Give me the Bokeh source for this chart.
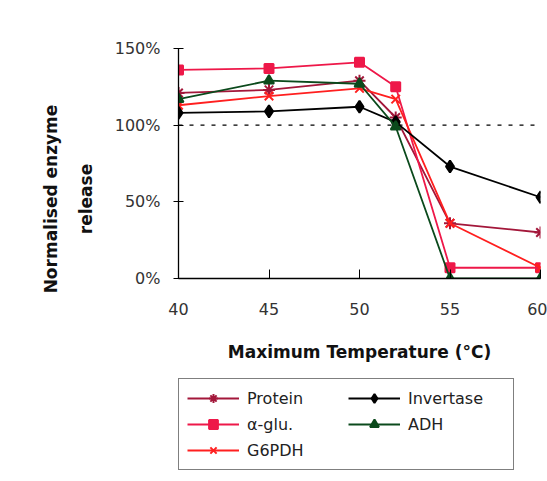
from bokeh.plotting import figure
from bokeh.models import Span, Legend, LegendItem, FixedTicker, Range1d, CustomJSTickFormatter
from bokeh.layouts import column
from bokeh.embed import file_html
from bokeh.resources import INLINE

temps = [40, 45, 50, 52, 55, 60]
protein = [121, 123, 129, 105, 36, 30]
aglu = [136, 137, 141, 125, 7, 7]
g6pdh = [113, 119, 124, 117, 36, 7]
invertase = [108, 109, 112, 102, 73, 53]
adh = [117, 129, 127, 99, 0, 0]

y_ticks = [0, 50, 100, 150]
x_ticks = [40, 45, 50, 55, 60]

FONT = "DejaVu Sans"
NB = "\u00a0" * 12

p = figure(width=547, height=375, output_backend="svg", toolbar_location=None,
           x_range=Range1d(40, 60), y_range=Range1d(0, 150),
           min_border_left=178, min_border_right=7, min_border_top=48,
           min_border_bottom=97)
p.outline_line_color = None
p.xgrid.visible = False
p.ygrid.visible = False

p.yaxis.ticker = FixedTicker(ticks=y_ticks)
p.yaxis.formatter = CustomJSTickFormatter(code="return tick + '%';")
p.xaxis.ticker = FixedTicker(ticks=x_ticks)
for ax in (p.xaxis, p.yaxis):
    ax.minor_tick_line_color = None
    ax.axis_line_color = "black"
    ax.axis_line_width = 1.3
    ax.major_tick_line_color = "black"
    ax.major_label_text_font = FONT
    ax.major_label_text_font_size = "16px"
    ax.major_label_text_color = "#333333"
    ax.axis_label_text_font = FONT
    ax.axis_label_text_font_style = "bold"
    ax.axis_label_text_font_size = "17px"
    ax.axis_label_text_color = "#111111"

p.yaxis.major_tick_in = 5
p.yaxis.major_tick_out = 5
p.xaxis.major_tick_in = 9
p.xaxis.major_tick_out = 0
p.yaxis.major_label_standoff = 13
p.xaxis.major_label_standoff = 24
p.yaxis.axis_label = "Normalised enzyme" + NB + "\nrelease" + NB
p.yaxis.axis_label_text_line_height = 1.75
p.xaxis.axis_label = "Maximum Temperature (°C)"
p.xaxis.axis_label_standoff = 24
p.yaxis.axis_label_standoff = 16

p.add_layout(Span(location=100, dimension="width", line_color="black",
                  line_dash="4 7", line_width=1.3))

series = [
    ("Protein", protein, "#a3173a", "asterisk", 12),
    ("\u03b1-glu.", aglu, "#ee1849", "square", 9),
    ("G6PDH", g6pdh, "#ff1f1f", "x", 12),
    ("Invertase", invertase, "#000000", "diamond", 12),
    ("ADH", adh, "#0b4a1c", "triangle", 10),
]

# legend panel: a second canvas whose visible range holds no data
pl = figure(width=547, height=106, output_backend="svg", toolbar_location=None,
            x_range=Range1d(0, 1), y_range=Range1d(0, 1), min_border=0)
pl.axis.visible = False
pl.grid.visible = False
pl.outline_line_color = None

items = []
for name, vals, col, mk, sz in series:
    p.line(temps, vals, line_color=col, line_width=1.8)
    p.scatter(temps, vals, marker=mk, size=sz, line_color=col, fill_color=col, line_width=2)
    l1 = pl.line(temps, vals, line_color=col, line_width=1.8)
    l2 = pl.scatter(temps, vals, marker=mk, size=sz, line_color=col, fill_color=col, line_width=2)
    items.append(LegendItem(label=name, renderers=[l1, l2]))

legend = Legend(items=items, orientation="vertical", nrows=3,
                location=(0, 11), margin=0, padding=8, spacing=4,
                label_text_font=FONT, label_text_font_size="16px",
                label_text_color="#222222", glyph_width=52, glyph_height=22,
                label_height=22, label_width=97, label_standoff=8,
                border_line_color="black", border_line_width=1,
                background_fill_alpha=0)
pl.add_layout(legend)

layout = column(p, pl, spacing=0)
open("out.html", "w").write(file_html(layout, INLINE))
